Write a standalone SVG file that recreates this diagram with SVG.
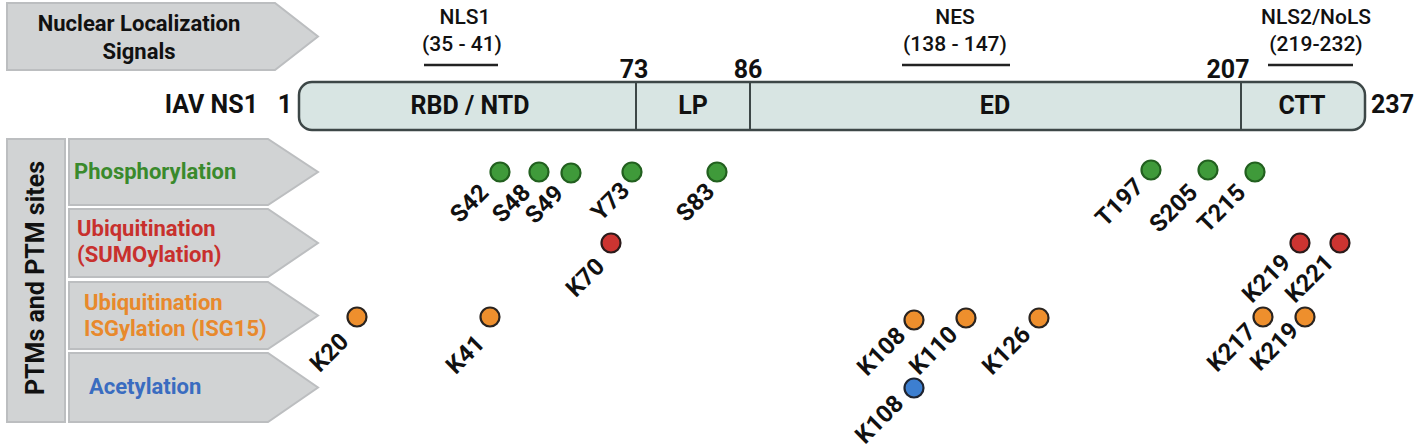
<svg xmlns="http://www.w3.org/2000/svg" width="1424" height="448" viewBox="0 0 1424 448">
<style>
.tag{fill:#d1d3d4;stroke:#bcbec0;stroke-width:2}
.t{font-family:Roboto,"Liberation Sans",sans-serif;font-weight:700;fill:#111}
.hdr{font-size:22px}
.top{font-family:Roboto,"Liberation Sans",sans-serif;font-weight:500;font-size:21px;fill:#111}
.bar{fill:#d8e5e3;stroke:#3d4747;stroke-width:2.5}
.div{stroke:#3d4747;stroke-width:2}
.ul{stroke:#222;stroke-width:2.5}
.lab{font-size:25px}
.site{font-size:24px}
.g{fill:#3f9a3a;stroke:#22601f;stroke-width:2.2}
.r{fill:#cc3431;stroke:#2a1a1a;stroke-width:2.2}
.o{fill:#ee8f2d;stroke:#2a2420;stroke-width:2.2}
.b{fill:#3d7fd0;stroke:#1e2430;stroke-width:2.2}
</style>

<g id="nls-header">
<polygon class="tag" points="7,3 275,3 318,36.5 275,70 7,70"/>
<text class="t hdr" x="139" y="31" text-anchor="middle">Nuclear Localization</text>
<text class="t hdr" x="139" y="59" text-anchor="middle">Signals</text>
</g>

<g id="ptm-header">
<rect class="tag" x="7" y="139" width="58" height="283"/>
<text class="t" font-size="25" transform="translate(44,278) rotate(-90)" text-anchor="middle">PTMs and PTM sites</text>
</g>

<g id="row-phospho">
<polygon class="tag" points="69,139 268,139 318,172 268,205 69,205"/>
<text class="t hdr" x="74" y="179" style="fill:#3a8a2c">Phosphorylation</text>
</g>
<g id="row-sumo">
<polygon class="tag" points="69,209 268,209 318,243 268,277 69,277"/>
<text class="t hdr" x="77" y="236" style="fill:#c8302d">Ubiquitination</text>
<text class="t hdr" x="77" y="262" style="fill:#c8302d">(SUMOylation)</text>
</g>
<g id="row-isg">
<polygon class="tag" points="69,282 268,282 318,315.5 268,349 69,349"/>
<text class="t hdr" x="84" y="310" style="fill:#e8892c">Ubiquitination</text>
<text class="t hdr" x="84" y="336" style="fill:#e8892c">ISGylation (ISG15)</text>
</g>
<g id="row-acetyl">
<polygon class="tag" points="69,353 268,353 318,387.5 268,422 69,422"/>
<text class="t hdr" x="89" y="394" style="fill:#3a6cc0">Acetylation</text>
</g>

<g id="nls-labels">
<text class="top" x="465" y="24" text-anchor="middle">NLS1</text>
<text class="top" x="462" y="51" text-anchor="middle">(35 - 41)</text>
<line class="ul" x1="424" y1="65" x2="498" y2="65"/>
<text class="top" x="955" y="24" text-anchor="middle">NES</text>
<text class="top" x="955" y="51" text-anchor="middle">(138 - 147)</text>
<line class="ul" x1="902" y1="65" x2="1010" y2="65"/>
<text class="top" x="1316" y="24" text-anchor="middle">NLS2/NoLS</text>
<text class="top" x="1316" y="51" text-anchor="middle">(219-232)</text>
<line class="ul" x1="1268" y1="65" x2="1353" y2="65"/>
</g>

<g id="ns1-bar">
<text class="t lab" x="258" y="113" text-anchor="end">IAV NS1</text>
<text class="t lab" x="285" y="113" text-anchor="middle">1</text>
<rect class="bar" x="299" y="82" width="1066" height="48" rx="13"/>
<line class="div" x1="636" y1="83" x2="636" y2="129"/>
<line class="div" x1="750" y1="83" x2="750" y2="129"/>
<line class="div" x1="1241" y1="83" x2="1241" y2="129"/>
<text class="t lab" x="470" y="114" text-anchor="middle">RBD / NTD</text>
<text class="t lab" x="693" y="114" text-anchor="middle">LP</text>
<text class="t lab" x="995" y="114" text-anchor="middle">ED</text>
<text class="t lab" x="1302" y="114" text-anchor="middle">CTT</text>
<text class="t lab" x="634" y="78" text-anchor="middle">73</text>
<text class="t lab" x="748" y="78" text-anchor="middle">86</text>
<text class="t lab" x="1228" y="78" text-anchor="middle">207</text>
<text class="t lab" x="1371" y="113">237</text>
</g>

<g id="sites-phospho">
<circle class="g" cx="500" cy="172" r="9.5"/><text class="t site" text-anchor="end" transform="translate(490,194) rotate(-45)">S42</text>
<circle class="g" cx="539" cy="172" r="9.5"/><text class="t site" text-anchor="end" transform="translate(532,194) rotate(-45)">S48</text>
<circle class="g" cx="571" cy="173" r="9.5"/><text class="t site" text-anchor="end" transform="translate(565,195) rotate(-45)">S49</text>
<circle class="g" cx="632" cy="172" r="9.5"/><text class="t site" text-anchor="end" transform="translate(631,192) rotate(-45)">Y73</text>
<circle class="g" cx="717" cy="172" r="9.5"/><text class="t site" text-anchor="end" transform="translate(716,193) rotate(-45)">S83</text>
<circle class="g" cx="1151" cy="170" r="9.5"/><text class="t site" text-anchor="end" transform="translate(1145,188) rotate(-45)">T197</text>
<circle class="g" cx="1208" cy="170" r="9.5"/><text class="t site" text-anchor="end" transform="translate(1199,194) rotate(-45)">S205</text>
<circle class="g" cx="1255" cy="172" r="9.5"/><text class="t site" text-anchor="end" transform="translate(1247,194) rotate(-45)">T215</text>
</g>

<g id="sites-sumo">
<circle class="r" cx="611" cy="243" r="9.5"/><text class="t site" text-anchor="end" transform="translate(606,268) rotate(-45)">K70</text>
<circle class="r" cx="1300" cy="243" r="9.5"/><text class="t site" text-anchor="end" transform="translate(1292,264) rotate(-45)">K219</text>
<circle class="r" cx="1340" cy="243" r="9.5"/><text class="t site" text-anchor="end" transform="translate(1335,264) rotate(-45)">K221</text>
</g>

<g id="sites-isg">
<circle class="o" cx="357" cy="317" r="9.5"/><text class="t site" text-anchor="end" transform="translate(350,343) rotate(-45)">K20</text>
<circle class="o" cx="490" cy="317" r="9.5"/><text class="t site" text-anchor="end" transform="translate(486,345) rotate(-45)">K41</text>
<circle class="o" cx="914" cy="320" r="9.5"/><text class="t site" text-anchor="end" transform="translate(907,337) rotate(-45)">K108</text>
<circle class="o" cx="966" cy="318" r="9.5"/><text class="t site" text-anchor="end" transform="translate(959,336) rotate(-45)">K110</text>
<circle class="o" cx="1039" cy="318" r="9.5"/><text class="t site" text-anchor="end" transform="translate(1032,336) rotate(-45)">K126</text>
<circle class="o" cx="1263" cy="317" r="9.5"/><text class="t site" text-anchor="end" transform="translate(1257,333) rotate(-45)">K217</text>
<circle class="o" cx="1305" cy="317" r="9.5"/><text class="t site" text-anchor="end" transform="translate(1300,332) rotate(-45)">K219</text>
</g>

<g id="sites-acetyl">
<circle class="b" cx="914" cy="388" r="9.5"/><text class="t site" text-anchor="end" transform="translate(905,405) rotate(-45)">K108</text>
</g>
</svg>
